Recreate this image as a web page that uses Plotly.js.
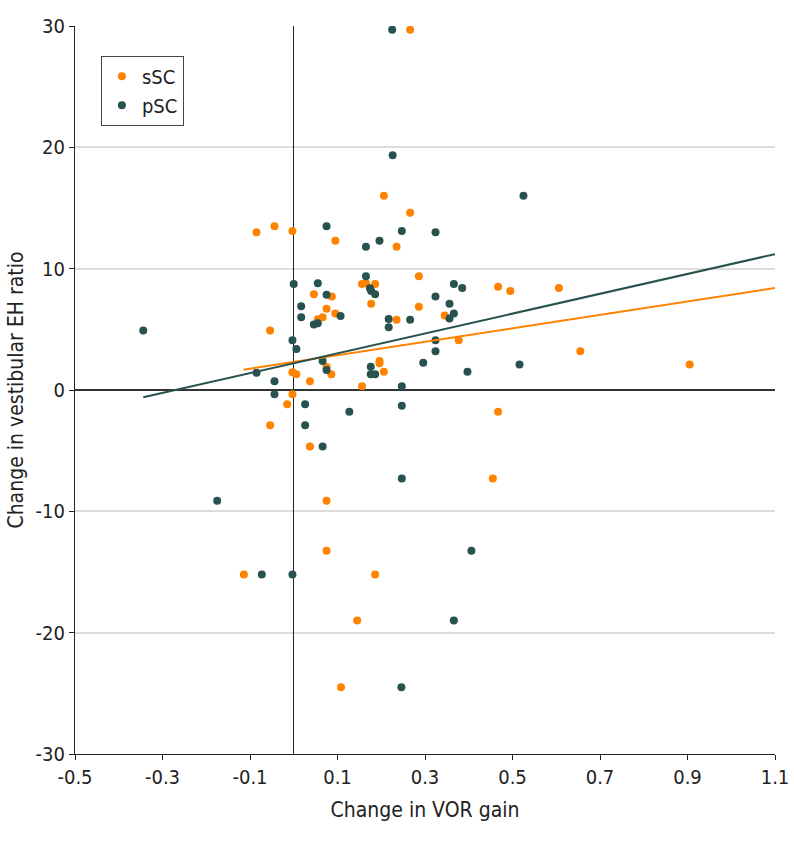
<!DOCTYPE html>
<html>
<head>
<meta charset="utf-8">
<script src="https://cdn.plot.ly/plotly-3.0.1.min.js"></script>
<style>html,body{margin:0;padding:0;background:#fff;}#chart{width:794px;height:842px;}</style>
</head>
<body>
<div id="chart"></div>
<script>
// sSC (orange) points
const sscX = [-0.085,-0.044,-0.003,0.095,0.046,0.087,0.075,0.095,0.055,0.066,0.206,0.266,0.235,0.286,0.156,0.165,0.186,0.467,0.495,0.177,0.345,0.235,0.286,0.377,0.075,0.086,0.037,0.196,0.196,0.206,0.156,0.467,0.037,0.455,-0.054,-0.003,0.006,-0.003,-0.015,-0.054,0.075,0.075,-0.114,0.186,0.145,0.108,0.266,0.606,0.655,0.905];
const sscY = [13.0,13.5,13.1,12.3,7.9,7.7,6.7,6.3,5.83,6.0,16.0,14.6,11.8,9.37,8.74,8.8,8.74,8.5,8.16,7.1,6.15,5.8,6.87,4.1,1.9,1.3,0.72,2.4,2.2,1.5,0.3,-1.8,-4.65,-7.3,4.9,1.46,1.3,-0.36,-1.18,-2.9,-9.12,-13.25,-15.2,-15.2,-19.0,-24.5,29.7,8.4,3.2,2.1];
// pSC (dark) points
const pscX = [0.075,0.0,0.055,0.075,0.017,0.107,0.017,0.226,0.525,0.165,0.196,0.247,0.324,0.165,0.174,0.177,0.186,0.366,0.385,0.324,0.356,0.366,0.356,0.217,0.266,0.046,0.055,0.217,0.324,0.324,0.066,0.075,0.176,0.176,0.186,0.296,0.247,0.397,0.516,0.026,0.127,0.247,0.026,0.066,0.247,-0.344,-0.003,0.006,-0.085,-0.044,-0.044,-0.175,-0.073,-0.003,0.406,0.366,0.246,0.225];
const pscY = [13.5,8.74,8.8,7.86,6.9,6.1,6.0,19.35,16.0,11.8,12.3,13.1,13.0,9.37,8.38,8.16,7.9,8.74,8.4,7.7,7.1,6.3,5.9,5.85,5.8,5.4,5.5,5.17,4.1,3.2,2.4,1.65,1.92,1.3,1.3,2.25,0.3,1.5,2.1,-1.18,-1.8,-1.3,-2.9,-4.65,-7.3,4.9,4.1,3.38,1.43,0.72,-0.36,-9.12,-15.2,-15.2,-13.25,-19.0,-24.5,29.7];
// fitted lines: [start x, end x], intercept, slope
const sscFitX = [-0.115, 1.1]; const sscFitB = 2.31; const sscFitM = 5.54;
const pscFitX = [-0.344, 1.1]; const pscFitB = 2.21; const pscFitM = 8.17;
// ticks
const xTickVals = [-0.5,-0.3,-0.1,0.1,0.3,0.5,0.7,0.9,1.1];
const xTickText = ["-0.5","-0.3","-0.1","0.1","0.3","0.5","0.7","0.9","1.1"];
const yTickVals = [-30,-20,-10,0,10,20,30];
const yTickText = ["-30","-20","-10","0","10","20","30"];

const orange = "#FF8200";
const dark = "#28524F";
const font = "'DejaVu Sans Condensed', 'Liberation Sans Narrow', sans-serif";

const traces = [
  {x: sscX, y: sscY, type: "scatter", mode: "markers", name: "sSC",
   marker: {color: orange, size: 8}},
  {x: pscX, y: pscY, type: "scatter", mode: "markers", name: "pSC",
   marker: {color: dark, size: 8}},
  {x: sscFitX, y: sscFitX.map(v => sscFitB + sscFitM * v), type: "scatter", mode: "lines",
   line: {color: orange, width: 2}, showlegend: false, hoverinfo: "skip"},
  {x: pscFitX, y: pscFitX.map(v => pscFitB + pscFitM * v), type: "scatter", mode: "lines",
   line: {color: dark, width: 2}, showlegend: false, hoverinfo: "skip"}
];

const layout = {
  width: 794, height: 842,
  margin: {l: 75, r: 19, t: 26, b: 88},
  paper_bgcolor: "#fff", plot_bgcolor: "#fff",
  font: {family: font, size: 18, color: "#222"},
  showlegend: true,
  legend: {x: 0.037, y: 0.959, xanchor: "left", yanchor: "top",
           bordercolor: "#444", borderwidth: 1, bgcolor: "#fff",
           font: {family: font, size: 20, color: "#222"}, itemwidth: 30,
           tracegroupgap: 0},
  xaxis: {
    range: [-0.5, 1.1], tickvals: xTickVals, ticktext: xTickText,
    showgrid: false, zeroline: true, zerolinecolor: "#222", zerolinewidth: 1,
    showline: true, linecolor: "#222", linewidth: 1,
    ticks: "outside", ticklen: 5, tickcolor: "#222",
    tickfont: {family: font, size: 20, color: "#222"},
    title: {text: "Change in VOR gain", font: {family: font, size: 21, color: "#222"}, standoff: 14}
  },
  yaxis: {
    range: [-30, 30], tickvals: yTickVals, ticktext: yTickText,
    showgrid: true, gridcolor: "#dcdcdc", gridwidth: 2,
    zeroline: true, zerolinecolor: "#333", zerolinewidth: 1.5,
    showline: true, linecolor: "#222", linewidth: 1,
    ticks: "outside", ticklen: 5, tickcolor: "#222",
    tickfont: {family: font, size: 20, color: "#222"},
    title: {text: "Change in vestibular EH ratio", font: {family: font, size: 21, color: "#222"}, standoff: 6}
  }
};

Plotly.newPlot("chart", traces, layout, {displayModeBar: false, staticPlot: true});
</script>
</body>
</html>
